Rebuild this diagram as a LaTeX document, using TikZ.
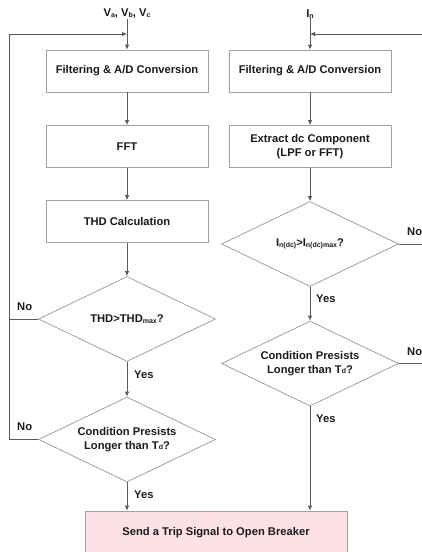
\documentclass[tikz,border=0pt]{standalone}
\usepackage{fontspec}
\setmainfont{Liberation Sans}
\usetikzlibrary{shapes.geometric,arrows.meta}
\definecolor{boxline}{HTML}{A0A0A0}
\definecolor{arrline}{HTML}{5A5A5A}
\definecolor{txt}{HTML}{1A1A1A}
\definecolor{pinkfill}{HTML}{FDE1E6}
\newcommand{\sbs}[1]{\raisebox{-0.6pt}{\fontsize{7}{7}\selectfont #1}}
\tikzset{
  every node/.style={font=\fontsize{11.2}{14}\selectfont\bfseries, text=txt},
  procbox/.style={draw=boxline, line width=0.8pt, fill=white, minimum width=162pt, minimum height=42pt, inner sep=0pt, align=center},
  decbox/.style={draw=boxline, line width=0.8pt, diamond, minimum width=177pt, minimum height=85pt, inner sep=0pt},
  dectext/.style={align=center, inner sep=0pt},
  tripbox/.style={draw=boxline, line width=0.8pt, fill=pinkfill, minimum width=262pt, minimum height=44pt, inner sep=0pt, align=center},
  arr/.style={draw=arrline, line width=0.8pt, -{Latex[length=5pt,width=4.5pt]}},
  conn/.style={draw=arrline, line width=0.8pt},
  lbl/.style={font=\fontsize{11.2}{14}\selectfont\bfseries, inner sep=0pt}
}
\begin{document}
\begin{tikzpicture}[x=1pt,y=-1pt]
\useasboundingbox (0,0) rectangle (422,552);
\clip (0,0) rectangle (422,552);
% inputs
\node[lbl] (vlab) at (127,14) {V\sbs{a}, V\sbs{b}, V\sbs{c}};
\node[lbl] (ilab) at (310,14) {I\sbs{n}};
% left column
\node[procbox] (f1) at (127,71) {Filtering \& A/D Conversion};
\node[procbox] (fft) at (127,146.5) {FFT};
\node[procbox] (thd) at (127,221.5) {THD Calculation};
\node[decbox] (d1) at (127,319) {};
\node[dectext] (d1t) at (d1) {THD>THD\sbs{max}?};
\node[decbox] (d2) at (127,439.5) {};
\node[dectext] (d2t) at (d2) {Condition Presists\\Longer than T\sbs{d}?};
% right column
\node[procbox] (f2) at (310,71) {Filtering \& A/D Conversion};
\node[procbox] (ext) at (310,146.5) {Extract dc Component\\(LPF or FFT)};
\node[decbox] (d3) at (310,244) {};
\node[dectext] (d3t) at (d3) {I\sbs{n(dc)}>I\sbs{n(dc)max}?};
\node[decbox] (d4) at (310,363.5) {};
\node[dectext] (d4t) at (d4) {Condition Presists\\Longer than T\sbs{d}?};
% output
\node[tripbox] (trip) at (216,533) {Send a Trip Signal to Open Breaker};
% junction coordinates
\coordinate (vj) at (127,34);
\coordinate (ij) at (310,34);
\coordinate (LT) at (9,34);
\coordinate (LB) at (9,439.5);
\coordinate (RT) at (432,34);
\coordinate (RB) at (432,363.5);
% main flow
\draw[arr] (vlab) -- (f1);
\draw[arr] (f1) -- (fft);
\draw[arr] (fft) -- (thd);
\draw[arr] (thd) -- (d1);
\draw[arr] (d1) -- (d2);
\draw[arr] (d2.south) -- (d2.south |- trip.north);
\draw[arr] (ilab) -- (f2);
\draw[arr] (f2) -- (ext);
\draw[arr] (ext) -- (d3);
\draw[arr] (d3) -- (d4);
\draw[arr] (d4.south) -- (d4.south |- trip.north);
% loops
\draw[conn] (d2.west) -- (LB) -- (LT);
\draw[arr] (LT) -- (vj);
\draw[conn] (d1.west) -- (d1.west -| LB);
\draw[conn] (d4.east) -- (RB) -- (RT);
\draw[arr] (RT) -- (ij);
\draw[conn] (d3.east) -- (d3.east -| RB);
% labels
\node[lbl, anchor=west] (y1) at (134,375) {Yes};
\node[lbl, anchor=west] (y2) at (134,495) {Yes};
\node[lbl, anchor=west] (y3) at (316,299) {Yes};
\node[lbl, anchor=west] (y4) at (316,419) {Yes};
\node[lbl, anchor=west] (n1) at (17,307) {No};
\node[lbl, anchor=west] (n2) at (17,427) {No};
\node[lbl, anchor=west] (n3) at (407,232) {No};
\node[lbl, anchor=west] (n4) at (407,352) {No};
\end{tikzpicture}
\end{document}
